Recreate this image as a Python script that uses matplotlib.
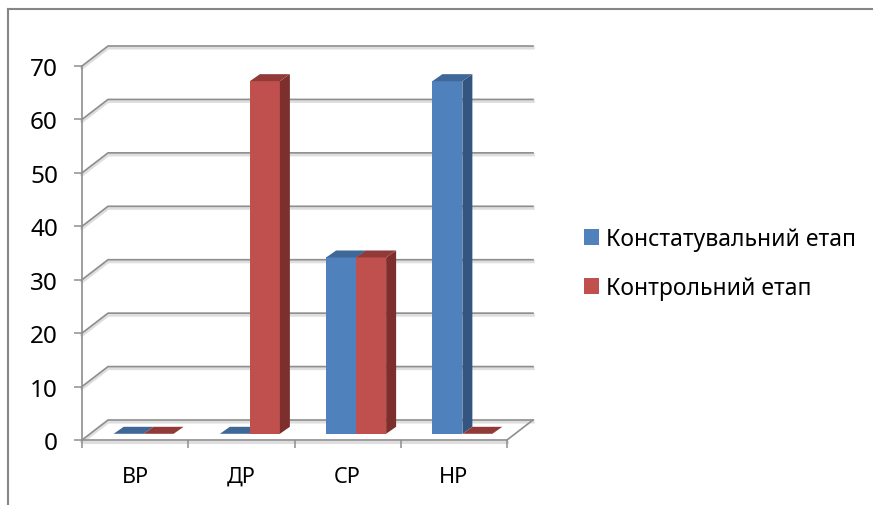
import matplotlib
matplotlib.use("Agg")
import matplotlib.pyplot as plt
from matplotlib.lines import Line2D
from matplotlib.patches import Patch

plt.rcParams['font.family'] = ['Noto Sans', 'DejaVu Sans']

categories = ['ВР', 'ДР', 'СР', 'НР']
series_names = ['Констатувальний етап', 'Контрольний етап']
konstat = [0, 0, 33, 66]
kontrol = [0, 66, 33, 0]
y_ticks = [0, 10, 20, 30, 40, 50, 60, 70]

W, H = 873, 506
fig = plt.figure(figsize=(W / 100, H / 100), dpi=100, facecolor='white')
ax = fig.add_axes([82 / W, (H - 441) / H, 425 / W, 374 / H])
ax.set_xlim(0, 4)
ax.set_ylim(0, 70)
ax.patch.set_visible(False)

px_x = 4 / 425
px_y = 70 / 374
wall_dx, wall_dy = 26 * px_x, 20 * px_y
bar_w = 30 * px_x
lift_x, lift_y = 8.5 * px_x, 6.2 * px_y
depth_x, depth_y = 10 * px_x, 7 * px_y

GRID = '#8e8e8e'
SHADOW = '#dedede'

# back wall and floor
for v in y_ticks:
    xs = [0, wall_dx, 4 + wall_dx]
    ys = [v, v + wall_dy, v + wall_dy]
    ax.plot(xs, [y - 0.35 for y in ys], color=SHADOW, lw=2.4, clip_on=False, zorder=1)
    ax.plot(xs, ys, color=GRID, lw=1.2, clip_on=False, zorder=2)
ax.plot([4, 4 + wall_dx], [0, wall_dy], color=GRID, lw=1.2, clip_on=False, zorder=2)
ax.plot([0, 4], [-0.3, -0.3], color=SHADOW, lw=2.2, clip_on=False, zorder=1)

styles = [('#4F81BD', '#3F6797', '#34557F'), ('#C0504D', '#913A38', '#7C2F2D')]
offsets = [-bar_w, 0]
z = 3
for values, (front, top, side), off in zip([konstat, kontrol], styles, offsets):
    for i, v in enumerate(values):
        x0 = i + 0.5 + lift_x + off
        x1 = x0 + bar_w
        y0 = lift_y
        y1 = lift_y + v
        ax.bar(x0, v, width=bar_w, bottom=y0, align='edge', color=front, lw=0,
               clip_on=False, zorder=z)
        ax.fill([x1, x1 + depth_x, x1 + depth_x, x1],
                [y0, y0 + depth_y, y1 + depth_y, y1],
                color=side, lw=0, clip_on=False, zorder=z)
        ax.fill([x0, x1, x1 + depth_x, x0 + depth_x],
                [y1, y1, y1 + depth_y, y1 + depth_y],
                color=top, lw=0, clip_on=False, zorder=z)
    z += 1

ax.set_xlim(0, 4)
ax.set_ylim(0, 70)

for s in ('top', 'right'):
    ax.spines[s].set_visible(False)
for s in ('left', 'bottom'):
    ax.spines[s].set_color(GRID)
    ax.spines[s].set_linewidth(1.2)
    ax.spines[s].set_zorder(2.5)

ax.set_yticks(y_ticks)
ax.tick_params(axis='y', length=5.8, width=1.1, color=GRID, pad=11.5, labelsize=17.5, labelcolor='black')
ax.set_xticks([0, 1, 2, 3, 4])
ax.set_xticklabels([])
ax.set_xticks([i + 0.5 for i in range(len(categories))], categories, minor=True)
ax.tick_params(axis='x', which='major', length=5.8, width=1.1, color=GRID)
ax.tick_params(axis='x', which='minor', length=0, pad=18.5, labelsize=15.5, labelcolor='black')

handles = [Patch(facecolor=styles[0][0], lw=0), Patch(facecolor=styles[1][0], lw=0)]
fig.legend(handles, series_names, frameon=False, fontsize=16.5,
           loc='center left', bbox_to_anchor=(584 / W, (H - 264.5) / H),
           borderpad=0, borderaxespad=0, handlelength=0.655, handleheight=0.655,
           handletextpad=0.3, labelspacing=1.09, labelcolor='black')

# outer chart frame: only top and left edges are in the crop
fig.add_artist(Line2D([8 / W, 8 / W], [0, (H - 10) / H], color='#868686', lw=1.5))
fig.add_artist(Line2D([8 / W, 1], [(H - 10) / H, (H - 10) / H], color='#868686', lw=1.5))

fig.savefig('out.png', dpi=100, facecolor='white')
